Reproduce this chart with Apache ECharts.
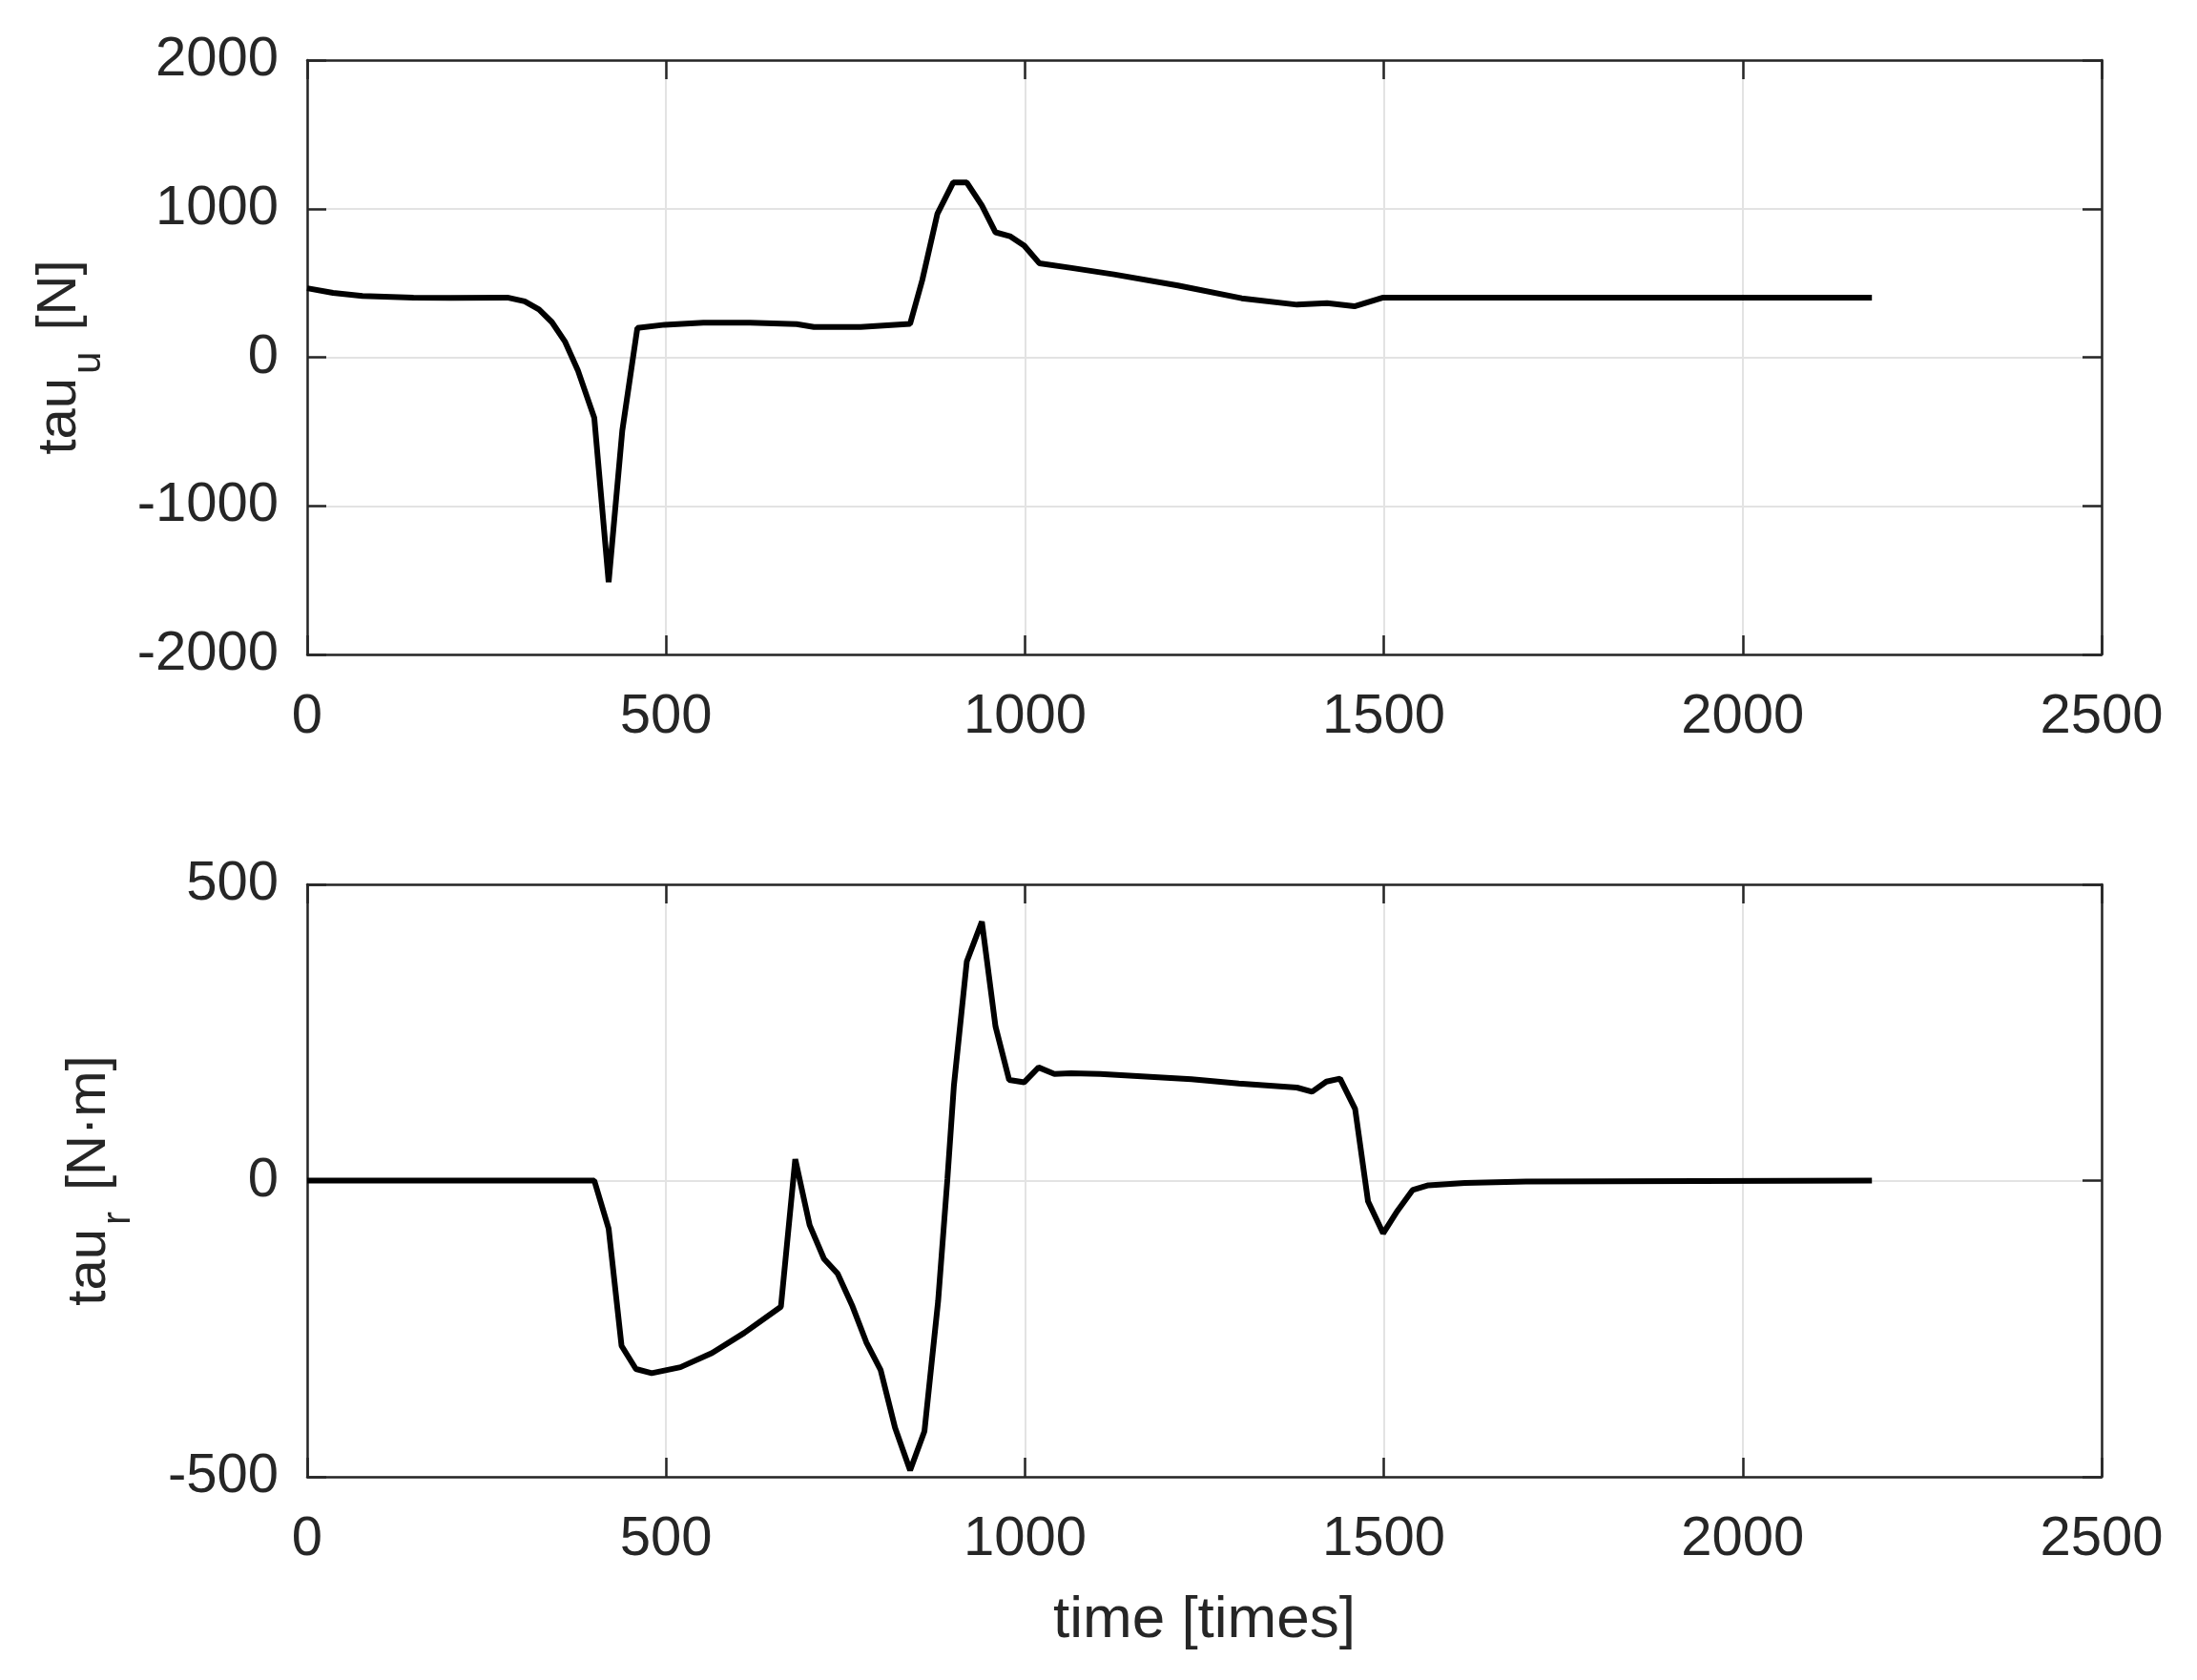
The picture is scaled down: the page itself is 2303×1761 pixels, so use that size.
<!DOCTYPE html>
<html>
<head>
<meta charset="utf-8">
<script src="https://cdn.jsdelivr.net/npm/echarts@6/dist/echarts.min.js"></script>
<style>
  html, body { margin: 0; padding: 0; background: #fff; }
  #chart { width: 2303px; height: 1761px; }
</style>
</head>
<body>
<div id="chart"></div>
<script>
// tick labels
var xTicks = [0, 500, 1000, 1500, 2000, 2500];
var tauUTicks = [-2000, -1000, 0, 1000, 2000];
var tauRTicks = [-500, 0, 500];

// tau_u [N] against time
var tauUTime = [0, 36, 77, 148, 200, 279, 303, 323, 341, 359, 377, 400, 420, 439, 460, 498, 552, 617, 682, 706, 771, 840, 857, 878, 900, 919, 940, 959, 979, 999, 1020, 1065, 1124, 1213, 1302, 1379, 1421, 1459, 1498, 2180];
var tauUValues = [465, 433, 412, 402, 400, 402, 376, 322, 236, 107, -86, -408, -1513, -494, 197, 219, 232, 232, 223, 204, 204, 225, 520, 966, 1176, 1176, 1021, 841, 815, 751, 633, 601, 558, 483, 397, 354, 365, 343, 401, 401];

// tau_r [N·m] against time
var tauRTime = [0, 400, 420, 438, 458, 480, 520, 564, 609, 660, 680, 700, 720, 739, 759, 779, 799, 819, 840, 860, 879, 892, 901, 919, 940, 959, 978, 999, 1019, 1041, 1064, 1105, 1232, 1298, 1379, 1400, 1420, 1439, 1460, 1478, 1499, 1519, 1540, 1562, 1613, 1698, 2180];
var tauRValues = [0, 0, -81, -279, -318, -325, -315, -291, -257, -213, 36, -75, -132, -157, -210, -273, -320, -417, -489, -423, -204, 3, 160, 370, 437, 260, 170, 166, 191, 180, 181, 180, 171, 164, 157, 150, 167, 172, 121, -35, -89, -51, -16, -8, -4, -1.5, 0];

function pairs(xs, ys) {
    var out = [];
    for (var i = 0; i < xs.length; i++) out.push([xs[i], ys[i]]);
    return out;
}

var font = '"Liberation Sans", Arial, sans-serif';
var ink = '#262626';
var gridColor = '#e3e3e3';

function plain(v) { return String(v); }

function yTitle(main, sub, unit) {
    return {
        formatter: '{m|' + main + '}{s|' + sub + '}{m| ' + unit + '}',
        rich: {
            m: { fontSize: 58, fontFamily: font, color: ink, lineHeight: 60, verticalAlign: 'top' },
            s: { fontSize: 42, fontFamily: font, color: ink, lineHeight: 80, verticalAlign: 'bottom', padding: [0, 6, 0, 4] }
        }
    };
}

function xMain(gridIndex, name) {
    return {
        type: 'value', gridIndex: gridIndex,
        min: xTicks[0], max: xTicks[xTicks.length - 1], interval: xTicks[1] - xTicks[0],
        name: name, nameLocation: 'middle', nameGap: 120, nameMoveOverlap: false,
        nameTextStyle: { fontSize: 62, fontFamily: font, color: ink },
        axisLine: { show: true, onZero: false, lineStyle: { color: ink, width: 2.5 } },
        axisTick: { show: true, inside: true, length: 20, lineStyle: { color: ink, width: 2.5 } },
        axisLabel: { fontSize: 58, fontFamily: font, color: ink, margin: 37, formatter: plain },
        splitLine: { show: true, lineStyle: { color: gridColor, width: 2 } }
    };
}

function xTop(gridIndex) {
    return {
        type: 'value', gridIndex: gridIndex, position: 'top',
        min: xTicks[0], max: xTicks[xTicks.length - 1], interval: xTicks[1] - xTicks[0],
        axisLine: { show: true, onZero: false, lineStyle: { color: ink, width: 2.5 } },
        axisTick: { show: true, inside: true, length: 20, lineStyle: { color: ink, width: 2.5 } },
        axisLabel: { show: false },
        splitLine: { show: false }
    };
}

function yMain(gridIndex, ticks, title, gap) {
    return {
        type: 'value', gridIndex: gridIndex,
        min: ticks[0], max: ticks[ticks.length - 1], interval: ticks[1] - ticks[0],
        name: title.formatter, nameLocation: 'middle', nameRotate: 90, nameGap: gap, nameMoveOverlap: false,
        nameTextStyle: { rich: title.rich },
        axisLine: { show: true, onZero: false, lineStyle: { color: ink, width: 2.5 } },
        axisTick: { show: true, inside: true, length: 20, lineStyle: { color: ink, width: 2.5 } },
        axisLabel: { fontSize: 58, fontFamily: font, color: ink, margin: 30, formatter: plain },
        splitLine: { show: true, lineStyle: { color: gridColor, width: 2 } }
    };
}

function yRight(gridIndex, ticks) {
    return {
        type: 'value', gridIndex: gridIndex, position: 'right',
        min: ticks[0], max: ticks[ticks.length - 1], interval: ticks[1] - ticks[0],
        axisLine: { show: true, onZero: false, lineStyle: { color: ink, width: 2.5 } },
        axisTick: { show: true, inside: true, length: 20, lineStyle: { color: ink, width: 2.5 } },
        axisLabel: { show: false },
        splitLine: { show: false }
    };
}

var chart = echarts.init(document.getElementById('chart'));
chart.setOption({
    backgroundColor: '#ffffff',
    animation: false,
    grid: [
        { left: 322, top: 63, width: 1881, height: 623, containLabel: false, outerBoundsMode: 'none' },
        { left: 322, top: 927, width: 1881, height: 621, containLabel: false, outerBoundsMode: 'none' }
    ],
    xAxis: [xMain(0, ''), xTop(0), xMain(1, 'time [times]'), xTop(1)],
    yAxis: [
        yMain(0, tauUTicks, yTitle('tau', 'u', '[N]'), 208),
        yRight(0, tauUTicks),
        yMain(1, tauRTicks, yTitle('tau', 'r', '[N·m]'), 177),
        yRight(1, tauRTicks)
    ],
    series: [
        {
            type: 'line', xAxisIndex: 0, yAxisIndex: 0,
            data: pairs(tauUTime, tauUValues),
            showSymbol: false, symbol: 'none',
            lineStyle: { color: '#000000', width: 6 }
        },
        {
            type: 'line', xAxisIndex: 2, yAxisIndex: 2,
            data: pairs(tauRTime, tauRValues),
            showSymbol: false, symbol: 'none',
            lineStyle: { color: '#000000', width: 6 }
        }
    ]
});
</script>
</body>
</html>
